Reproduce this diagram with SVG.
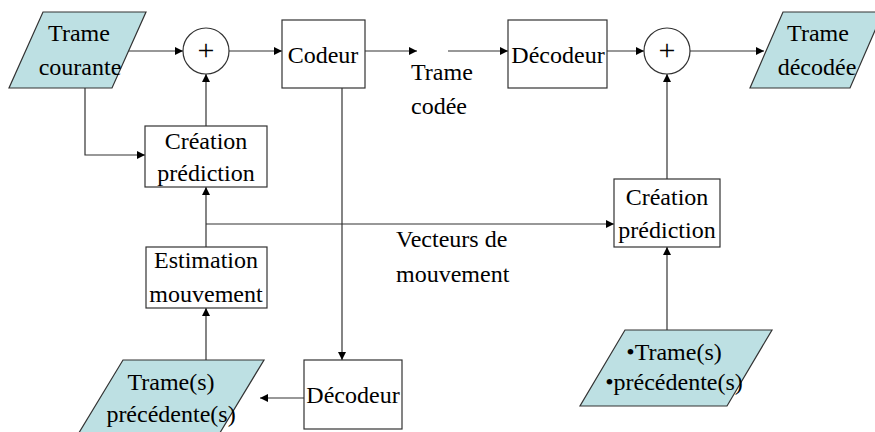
<svg xmlns="http://www.w3.org/2000/svg" width="875" height="432" viewBox="0 0 875 432">
<defs>
<style>
.box{fill:#ffffff;stroke:#333333;stroke-width:1.2}
.para{fill:#bde0e3;stroke:#333333;stroke-width:1.2}
.t{font-family:"Liberation Serif","Times New Roman",serif;font-size:24px;fill:#000000}
.c{text-anchor:middle}
.plus{font-size:30px}
.ln{fill:none;stroke:#333333;stroke-width:1.2}
.ar{marker-end:url(#ah)}
</style>
<marker id="ah" viewBox="0 0 10 10" refX="10" refY="5" markerWidth="8" markerHeight="8" markerUnits="userSpaceOnUse" orient="auto">
<path d="M0,0 L10,5 L0,10 z" fill="#000000"/>
</marker>
</defs>
<rect width="875" height="432" fill="#ffffff"/>

<g id="connectors">
<line class="ln ar" x1="122" y1="51" x2="183" y2="51"/>
<line class="ln ar" x1="229" y1="51" x2="282" y2="51"/>
<line class="ln ar" x1="365" y1="51" x2="417" y2="51"/>
<line class="ln ar" x1="448" y1="51" x2="508" y2="51"/>
<line class="ln ar" x1="607" y1="51" x2="644" y2="51"/>
<line class="ln ar" x1="690" y1="51" x2="764" y2="51"/>
<polyline class="ln ar" points="85,88 85,155 145,155"/>
<line class="ln ar" x1="206" y1="126" x2="206" y2="74"/>
<line class="ln ar" x1="206" y1="247" x2="206" y2="187"/>
<line class="ln ar" x1="206" y1="224" x2="614" y2="224"/>
<line class="ln ar" x1="342" y1="88" x2="342" y2="360"/>
<line class="ln ar" x1="304" y1="398" x2="260" y2="398"/>
<line class="ln ar" x1="206" y1="360" x2="206" y2="308"/>
<line class="ln ar" x1="667" y1="179" x2="667" y2="74"/>
<line class="ln ar" x1="667" y1="330" x2="667" y2="247"/>
</g>

<g id="trame-courante">
<polygon class="para" points="43,12 146,12 112,88 9,88"/>
<text class="t c" x="79" y="41">Trame</text>
<text class="t c" x="80" y="75">courante</text>
</g>

<g id="sum1">
<circle class="box" cx="206" cy="51" r="23"/>
<text class="t c plus" x="206" y="60">+</text>
</g>

<g id="codeur">
<rect class="box" x="282" y="20" width="83" height="68"/>
<text class="t c" x="323" y="63">Codeur</text>
</g>

<g id="trame-codee-label">
<text class="t" x="411" y="80">Trame</text>
<text class="t" x="411" y="114">codée</text>
</g>

<g id="decodeur1">
<rect class="box" x="508" y="20" width="99" height="68"/>
<text class="t c" x="558" y="63">Décodeur</text>
</g>

<g id="sum2">
<circle class="box" cx="667" cy="51" r="23"/>
<text class="t c plus" x="667" y="60">+</text>
</g>

<g id="trame-decodee">
<polygon class="para" points="783,12 883,12 850,88 750,88"/>
<text class="t c" x="818" y="41">Trame</text>
<text class="t c" x="817" y="75">décodée</text>
</g>

<g id="creation-prediction-1">
<rect class="box" x="145" y="126" width="122" height="61"/>
<text class="t c" x="206" y="149">Création</text>
<text class="t c" x="206" y="181">prédiction</text>
</g>

<g id="vecteurs-label">
<text class="t" x="396" y="247">Vecteurs de</text>
<text class="t" x="396" y="282">mouvement</text>
</g>

<g id="creation-prediction-2">
<rect class="box" x="614" y="179" width="106" height="68"/>
<text class="t c" x="667" y="205">Création</text>
<text class="t c" x="667" y="238">prédiction</text>
</g>

<g id="estimation-mouvement">
<rect class="box" x="146" y="247" width="121" height="61"/>
<text class="t c" x="206" y="268">Estimation</text>
<text class="t c" x="206" y="302">mouvement</text>
</g>

<g id="decodeur2">
<rect class="box" x="304" y="360" width="98" height="69"/>
<text class="t c" x="353" y="403">Décodeur</text>
</g>

<g id="trames-precedentes-1">
<polygon class="para" points="123,360 264,360 218,436 77,436"/>
<text class="t c" x="171" y="390">Trame(s)</text>
<text class="t c" x="171" y="422">précédente(s)</text>
</g>

<g id="trames-precedentes-2">
<polygon class="para" points="625,330 772,330 727,406 580,406"/>
<text class="t c" x="674" y="360">•Trame(s)</text>
<text class="t c" x="674" y="390">•précédente(s)</text>
</g>
</svg>
